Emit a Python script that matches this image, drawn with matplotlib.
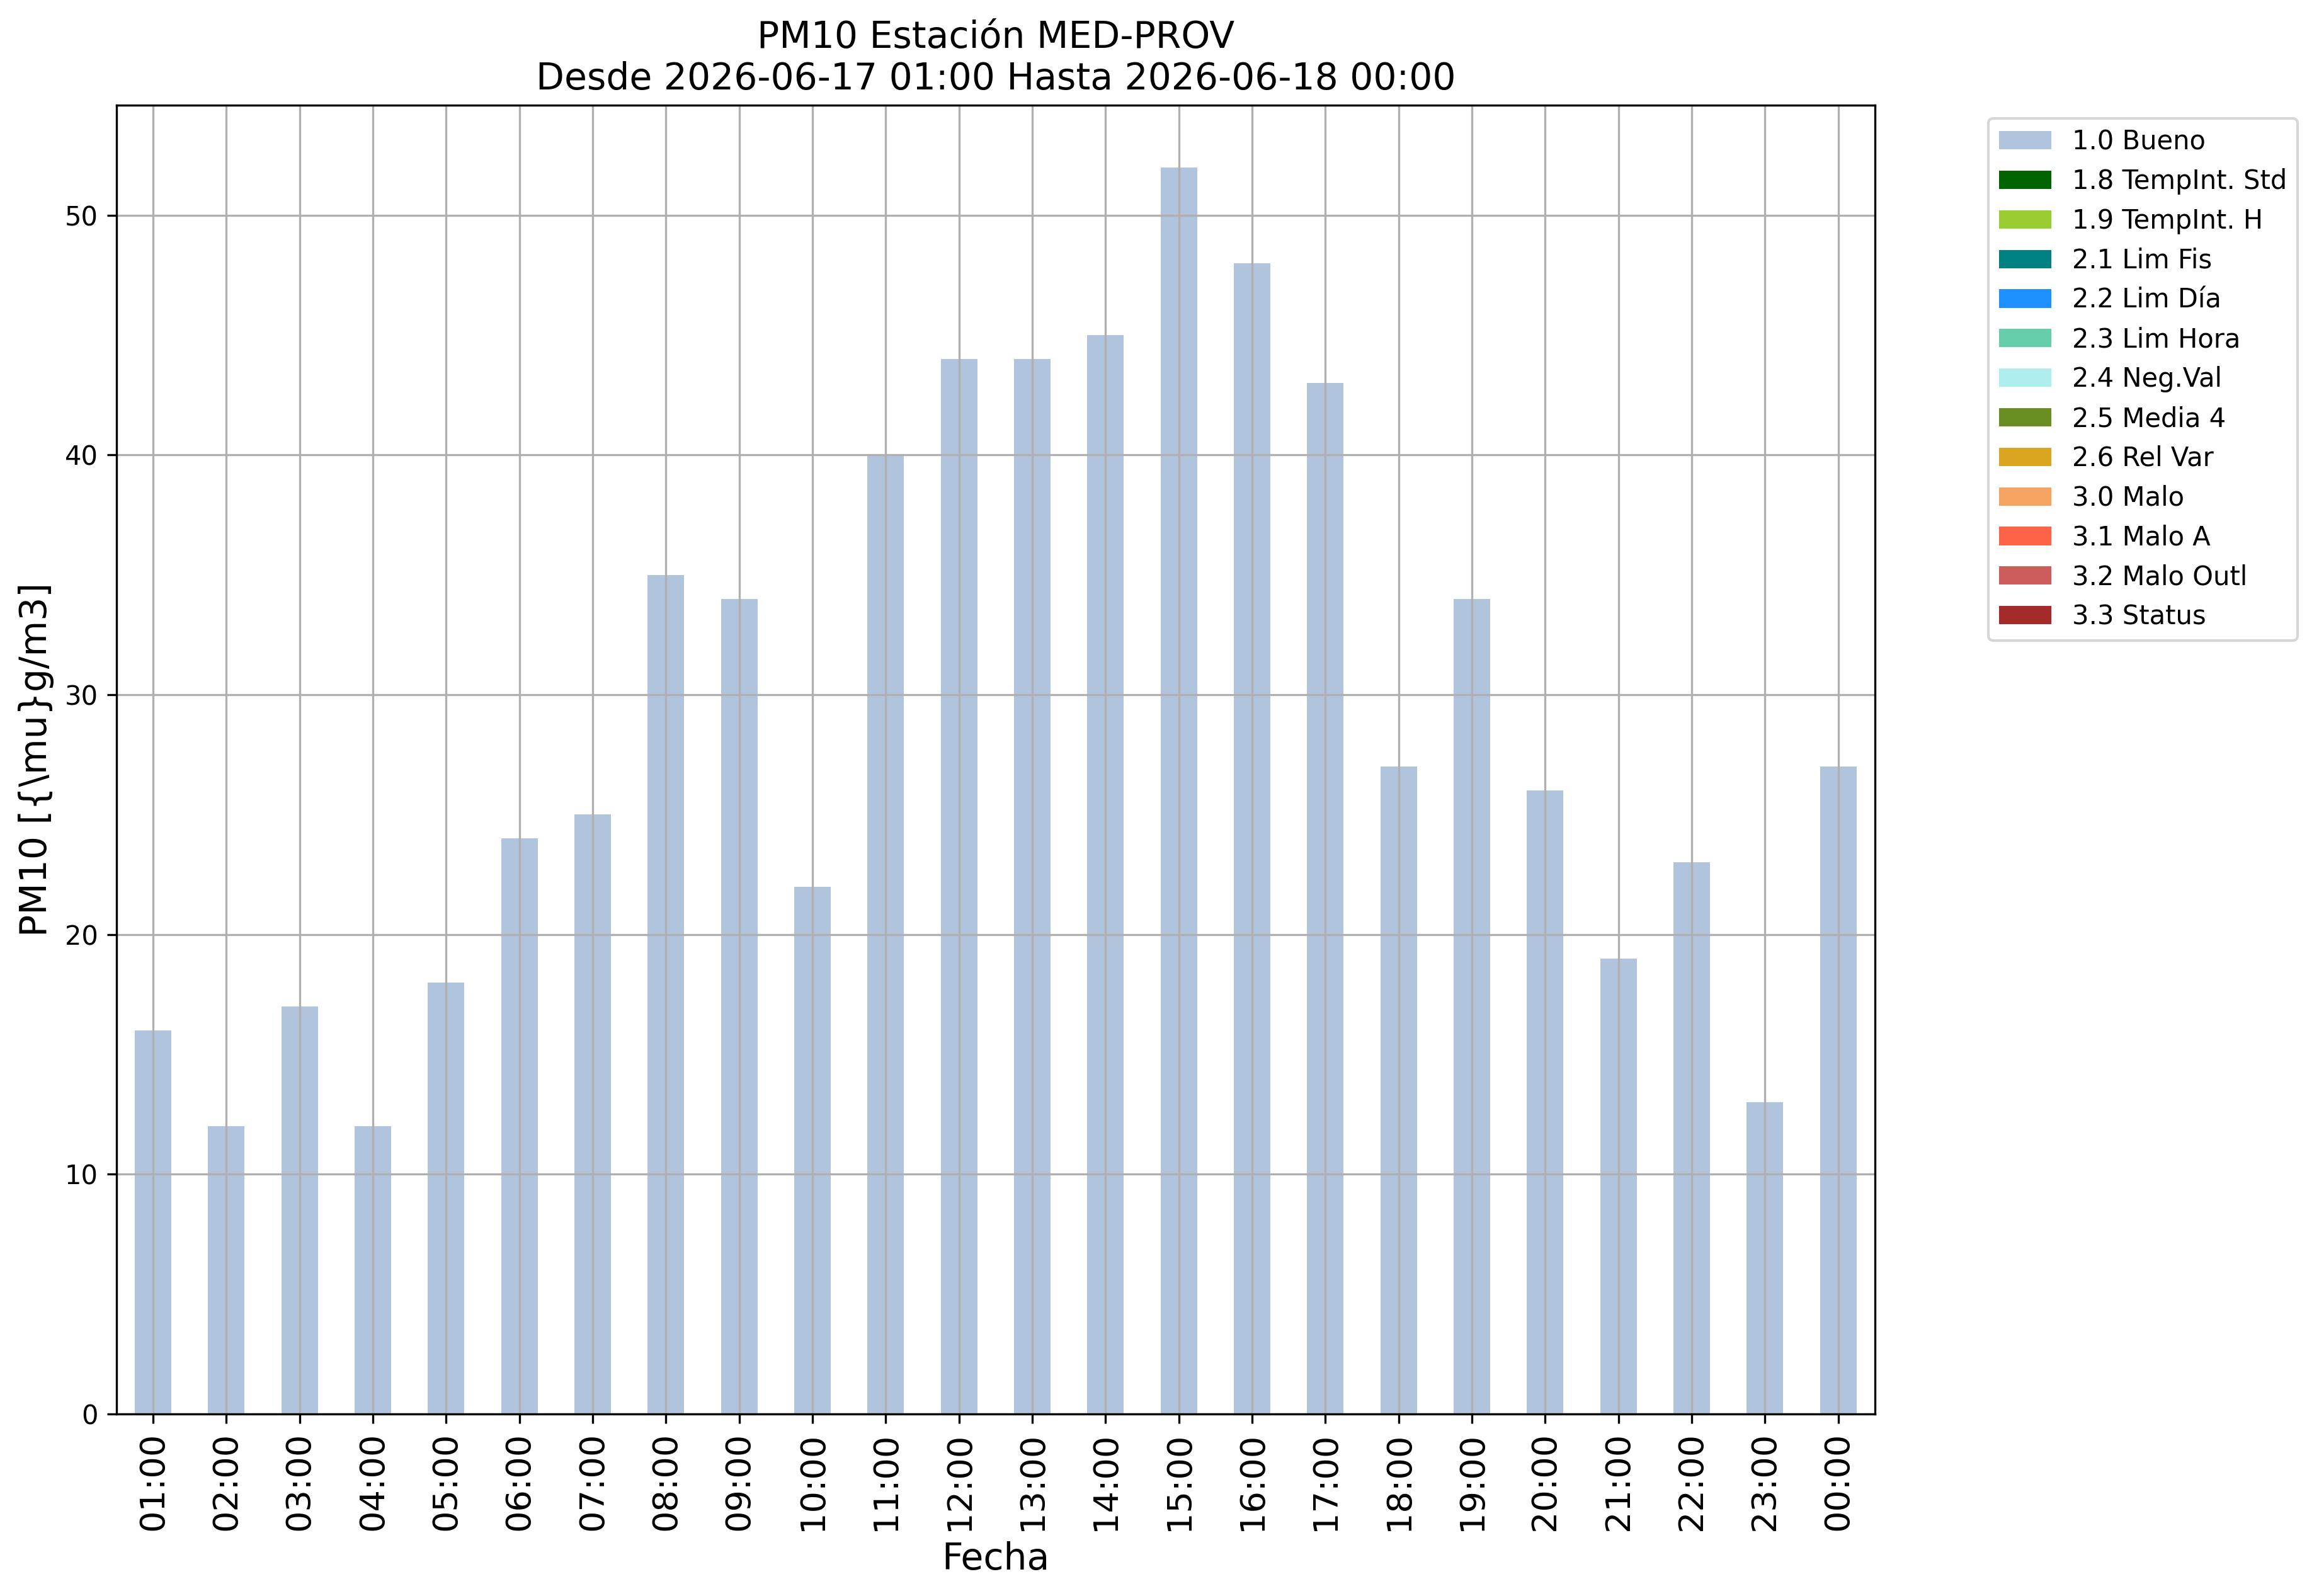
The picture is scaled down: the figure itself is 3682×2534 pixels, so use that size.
import numpy as np
import matplotlib
matplotlib.use("Agg")
import matplotlib.pyplot as plt

# horas del periodo
horas = ["01:00", "02:00", "03:00", "04:00", "05:00", "06:00", "07:00", "08:00",
         "09:00", "10:00", "11:00", "12:00", "13:00", "14:00", "15:00", "16:00",
         "17:00", "18:00", "19:00", "20:00", "21:00", "22:00", "23:00", "00:00"]

# valores PM10 con flag 1.0 Bueno
bueno = [16, 12, 17, 12, 18, 24, 25, 35, 34, 22, 40, 44,
         44, 45, 52, 48, 43, 27, 34, 26, 19, 23, 13, 27]

# categorias de validacion (solo 'Bueno' tiene datos)
categorias = ["1.0 Bueno", "1.8 TempInt. Std", "1.9 TempInt. H", "2.1 Lim Fis",
              "2.2 Lim Día", "2.3 Lim Hora", "2.4 Neg.Val", "2.5 Media 4",
              "2.6 Rel Var", "3.0 Malo", "3.1 Malo A", "3.2 Malo Outl", "3.3 Status"]
colores = ["lightsteelblue", "darkgreen", "yellowgreen", "teal", "dodgerblue",
           "mediumaquamarine", "paleturquoise", "olivedrab", "goldenrod",
           "sandybrown", "tomato", "indianred", "brown"]

series = [bueno] + [[0] * len(horas) for _ in categorias[1:]]

fig = plt.figure(figsize=(3682 / 300, 2534 / 300), dpi=300)
ax = fig.add_axes([0.0502, 0.1141, 0.7583, 0.8201])

x = np.arange(len(horas))
bottom = np.zeros(len(horas))
for nombre, col, vals in zip(categorias, colores, series):
    vals = np.array(vals, dtype=float)
    ax.bar(x, vals, width=0.5, bottom=bottom, color=col, label=nombre)
    bottom += vals

ax.set_xlim(-0.5, len(horas) - 0.5)
ax.set_ylim(0, bottom.max() * 1.05)
ax.set_xticks(x)
ax.set_xticklabels(horas, rotation=90, fontsize=13)
ax.tick_params(axis="y", labelsize=10)
ax.grid(True)

ax.set_title("PM10 Estación MED-PROV\nDesde 2026-06-17 01:00 Hasta 2026-06-18 00:00", fontsize=14)
ax.set_xlabel("Fecha", fontsize=14)
ax.set_ylabel("PM10 [{\\mu}g/m3]", fontsize=14)

ax.legend(bbox_to_anchor=(1.057, 1), loc="upper left", fontsize=10)

fig.savefig("out.png", dpi=300)
